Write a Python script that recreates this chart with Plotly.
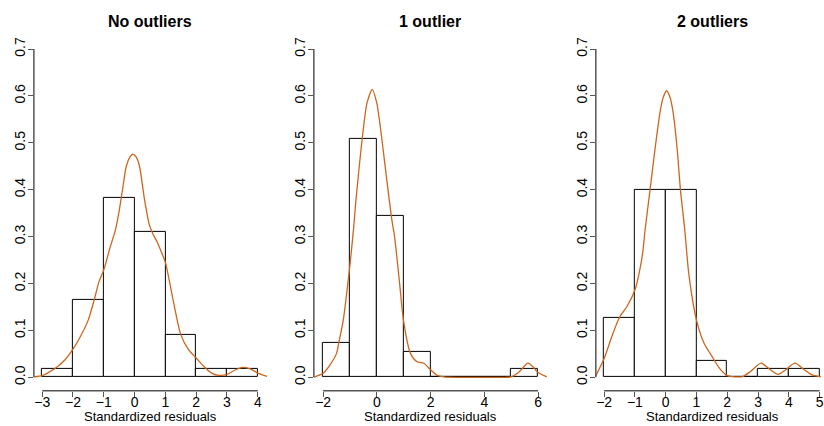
import plotly.graph_objects as go

# ---------------- data ----------------
titles = ["No outliers", "1 outlier", "2 outliers"]
x_label = "Standardized residuals"

# histogram bins (left edges, width 1) and densities
bins_left_1 = [-3, -2, -1, 0, 1, 2, 3]
dens_1 = [0.018, 0.164, 0.382, 0.309, 0.091, 0.018, 0.018]

bins_left_2 = [-2, -1, 0, 1, 2, 3, 4, 5]
dens_2 = [0.073, 0.509, 0.345, 0.055, 0.0, 0.0, 0.0, 0.018]

bins_left_3 = [-2, -1, 0, 1, 2, 3, 4]
dens_3 = [0.127, 0.400, 0.400, 0.036, 0.0, 0.018, 0.018]

# kernel density curves
kde_x_1 = [-3.27, -3.0, -2.75, -2.5, -2.25, -2.0, -1.75, -1.5, -1.32, -1.15, -1.0, -0.8,
           -0.62, -0.5, -0.37, -0.27, -0.15, -0.06, 0.05, 0.16, 0.32, 0.48, 0.6, 0.73,
           0.85, 1.0, 1.25, 1.5, 1.75, 2.0, 2.25, 2.5, 2.75, 3.0, 3.25, 3.5, 3.75, 4.0, 4.3]
kde_y_1 = [0.001, 0.0035, 0.012, 0.023, 0.038, 0.060, 0.088, 0.123, 0.163, 0.205, 0.229, 0.276,
           0.315, 0.355, 0.41, 0.45, 0.47, 0.476, 0.47, 0.45, 0.38, 0.325, 0.305, 0.289,
           0.27, 0.245, 0.165, 0.091, 0.059, 0.041, 0.023, 0.009, 0.004, 0.006, 0.015, 0.021, 0.018, 0.009, 0.002]

kde_x_2 = [-2.34, -2.0, -1.75, -1.5, -1.42, -1.25, -1.1, -1.0, -0.86, -0.8, -0.68, -0.55,
           -0.37, -0.17, 0.0, 0.19, 0.37, 0.56, 0.66, 0.83, 1.0, 1.25, 1.5, 1.75, 2.0,
           2.25, 2.5, 3.0, 4.0, 4.8, 5.0, 5.25, 5.5, 5.62, 5.8, 6.0, 6.33]
kde_y_2 = [0.0005, 0.0085, 0.026, 0.051, 0.073, 0.122, 0.19, 0.24, 0.321, 0.364, 0.435, 0.506,
           0.584, 0.614, 0.584, 0.506, 0.421, 0.335, 0.30, 0.21, 0.118, 0.051, 0.033, 0.030, 0.016,
           0.004, 0.001, 0.0, 0.0, 0.0, 0.001, 0.009, 0.024, 0.030, 0.023, 0.010, 0.001]

kde_x_3 = [-2.27, -2.0, -1.75, -1.5, -1.25, -1.0, -0.87, -0.75, -0.67, -0.51, -0.35, -0.19,
           -0.08, 0.03, 0.14, 0.245, 0.375, 0.48, 0.62, 0.75, 1.0, 1.25, 1.5, 1.75, 2.0,
           2.25, 2.5, 2.75, 3.1, 3.4, 3.65, 3.9, 4.2, 4.5, 4.75, 5.0, 5.05]
kde_y_3 = [0.003, 0.040, 0.087, 0.128, 0.152, 0.186, 0.22, 0.264, 0.314, 0.399, 0.485, 0.563,
           0.597, 0.611, 0.597, 0.563, 0.485, 0.399, 0.314, 0.221, 0.122, 0.072, 0.045, 0.019, 0.0035,
           0.001, 0.0015, 0.012, 0.030, 0.016, 0.006, 0.016, 0.030, 0.016, 0.005, 0.0015, 0.001]

x_ticks_1 = [-3, -2, -1, 0, 1, 2, 3, 4]
x_ticks_2 = [-2, 0, 2, 4, 6]
x_ticks_3 = [-2, -1, 0, 1, 2, 3, 4, 5]
y_ticks = [0.0, 0.1, 0.2, 0.3, 0.4, 0.5, 0.6, 0.7]

x_ranges = [[-3.27, 4.30], [-2.345, 6.334], [-2.27, 5.045]]
y_range = [-0.0286, 0.728]

# ---------------- styling / layout ----------------
W, H = 824, 426
panel_left_px = [34, 315, 598]
panel_w_px = 234
plot_top_px, plot_bot_px = 35.9, 390.7
CURVE = "#CD661D"
AXC = "#555555"
FONT = "Liberation Sans, Arial, Helvetica, sans-serif"

fig = go.Figure()
bins = [bins_left_1, bins_left_2, bins_left_3]
dens = [dens_1, dens_2, dens_3]
kx = [kde_x_1, kde_x_2, kde_x_3]
ky = [kde_y_1, kde_y_2, kde_y_3]
xt = [x_ticks_1, x_ticks_2, x_ticks_3]

ydom = [(H - plot_bot_px) / H, (H - plot_top_px) / H]

for i in range(3):
    xa = "x" if i == 0 else f"x{i+1}"
    ya = "y" if i == 0 else f"y{i+1}"
    centers = [b + 0.5 for b in bins[i]]
    fig.add_trace(go.Bar(x=centers, y=dens[i], width=1, xaxis=xa, yaxis=ya,
                         marker=dict(color="white", line=dict(color="black", width=1)),
                         showlegend=False, hoverinfo="skip"))
    fig.add_trace(go.Scatter(x=kx[i], y=ky[i], mode="lines", xaxis=xa, yaxis=ya,
                             line=dict(color=CURVE, width=1.3, shape="spline", smoothing=0.7),
                             showlegend=False, hoverinfo="skip"))

    l = panel_left_px[i]
    r = min(l + panel_w_px, W)
    sx = "" if i == 0 else str(i + 1)
    fig.layout[f"xaxis{sx}"] = dict(
        domain=[l / W, r / W], range=x_ranges[i], anchor=ya,
        tickvals=xt[i], ticks="outside", ticklen=5, tickwidth=1, tickcolor=AXC,
        ticklabelstandoff=-7, ticklabeloverflow="allow",
        showline=False, showgrid=False, zeroline=False,
        tickfont=dict(family=FONT, size=14, color="black"))
    fig.layout[f"yaxis{sx}"] = dict(
        domain=ydom, range=y_range, anchor=xa,
        tickvals=y_ticks, tickformat=".1f", tickangle=-90,
        ticks="outside", ticklen=5, tickwidth=1, tickcolor=AXC,
        ticklabelstandoff=-3,
        showline=False, showgrid=False, zeroline=False,
        tickfont=dict(family=FONT, size=14, color="black"))

    # R-style axis lines spanning first..last tick
    fig.add_shape(type="line", xref=xa, yref=f"{ya} domain",
                  x0=xt[i][0], x1=xt[i][-1], y0=0, y1=0,
                  line=dict(color=AXC, width=1.5))
    fig.add_shape(type="line", xref=f"{xa} domain", yref=ya,
                  x0=0, x1=0, y0=y_ticks[0], y1=y_ticks[-1],
                  line=dict(color=AXC, width=1.5))

    cx = (l + panel_w_px / 2) / W
    fig.add_annotation(text=f"<b>{titles[i]}</b>", xref="paper", yref="paper",
                       x=cx, y=1 - 21 / H, xanchor="center", yanchor="middle",
                       showarrow=False, font=dict(family=FONT, size=16, color="black"))
    fig.add_annotation(text=x_label, xref="paper", yref="paper",
                       x=cx, y=(H - 416) / H, xanchor="center", yanchor="middle",
                       showarrow=False, font=dict(family=FONT, size=13, color="black"))

fig.update_layout(width=W, height=H, margin=dict(l=0, r=0, t=0, b=0),
                  paper_bgcolor="white", plot_bgcolor="white",
                  barmode="overlay", bargap=0, showlegend=False)

fig.write_html("out.html")
